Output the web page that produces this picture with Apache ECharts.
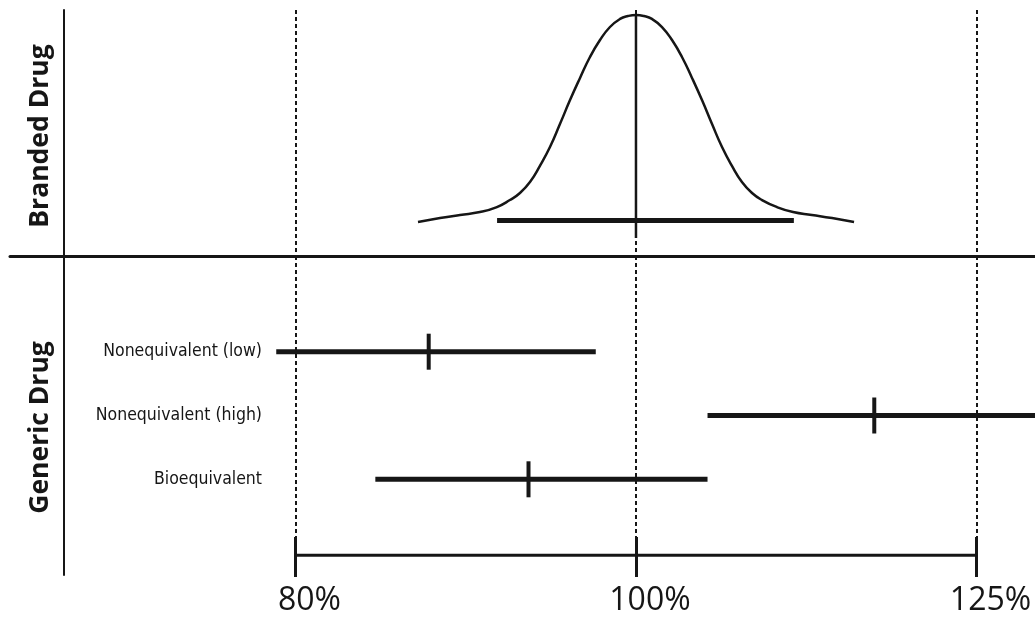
<!DOCTYPE html>
<html><head><meta charset="utf-8">
<script src="https://cdn.jsdelivr.net/npm/echarts@6/dist/echarts.min.js"></script>
<style>html,body{margin:0;padding:0;background:#fff}#c{width:1035px;height:617px}</style>
</head><body><div id="c"></div>
<script>
// ---- data (percent of reference) ----
const tickValues = [80, 100, 125];
const curveX = [86.69, 87.95, 89.11, 90.28, 91.29, 92.07, 92.68, 93.29, 93.90, 94.52, 95.14, 95.77, 96.40, 97.03, 97.67, 98.31, 98.96, 99.48, 100,
                100.53, 101.05, 101.72, 102.39, 103.06, 103.74, 104.42, 105.11, 105.80, 106.49, 107.19, 107.90, 108.61, 109.68, 110.84, 112.22, 113.71, 115.36];
const curveY = [0, 0.019, 0.034, 0.048, 0.072, 0.106, 0.140, 0.193, 0.271, 0.362, 0.473, 0.589, 0.696, 0.797, 0.879, 0.942, 0.981, 0.995, 1.0,
                0.995, 0.981, 0.942, 0.879, 0.797, 0.696, 0.589, 0.473, 0.362, 0.271, 0.193, 0.140, 0.106, 0.072, 0.048, 0.034, 0.019, 0];
const brandedInterval = [91.3, 100, 110.9];           // low, point, high
const genericCategories = ['Nonequivalent (low)', 'Nonequivalent (high)', 'Bioequivalent'];
const genericLow  = [79.0, 104.8, 84.3];
const genericMid  = [87.3, 116.9, 93.2];
const genericHigh = [97.4, 130.0, 104.8];
const axisMinPct = 66.353, axisMaxPct = 129.883;

const INK = '#161616';
const toF = v => v / 100;

const logX = (grid, extra) => Object.assign({
  type: 'log', logBase: 1.25, gridIndex: grid,
  min: toF(axisMinPct), max: toF(axisMaxPct),
  axisLine: { show: false, onZero: false },
  axisTick: { show: false, customValues: tickValues.map(toF) },
  axisLabel: { show: false, customValues: tickValues.map(toF) },
  splitLine: { show: true, lineStyle: { color: INK, width: 2, type: [4, 3] } }
}, extra || {});

const chart = echarts.init(document.getElementById('c'), null, { renderer: 'canvas' });
chart.setOption({
  animation: false,
  backgroundColor: '#fff',
  grid: [
    { left: 10, right: 0, top: 10, height: 246 },
    { left: 10, right: 0, top: 256, height: 319 },
    { left: 10, right: 0, top: 537.5, height: 40 }
  ],
  xAxis: [
    logX(0, { axisLine: { show: true, onZero: false, lineStyle: { color: INK, width: 3 } } }),
    logX(1),
    logX(2, {
      splitLine: { show: false },
      axisTick: { show: true, inside: true, length: 40, customValues: tickValues.map(toF),
                  lineStyle: { color: INK, width: 3 } },
      axisLabel: { show: true, customValues: tickValues.map(toF), margin: 8,
                   formatter: v => Math.round(v * 100) + '%',
                   fontFamily: '"Open Sans", sans-serif', fontSize: 32, color: INK,
                   padding: [0, 0, 0, 28] }
    })
  ],
  yAxis: [
    { type: 'value', gridIndex: 0, min: -0.1643, max: 1.0242, offset: -54,
      axisLine: { show: true, onZero: false, lineStyle: { color: INK, width: 2 } },
      axisTick: { show: false }, axisLabel: { show: false }, splitLine: { show: false },
      name: 'Branded Drug', nameLocation: 'middle', nameRotate: 90, nameGap: 10,
      nameTextStyle: { fontFamily: '"Open Sans", sans-serif', fontWeight: 'bold', fontSize: 26.5, color: INK,
                       padding: [0, 6, 0, 0] } },
    { type: 'category', gridIndex: 1, inverse: true, offset: -54,
      data: [' ', ...genericCategories, '  '],
      axisLine: { show: true, onZero: false, lineStyle: { color: INK, width: 2 } },
      axisTick: { show: false }, splitLine: { show: false },
      axisLabel: { show: true, inside: true, align: 'right', margin: 198,
                   fontFamily: '"DejaVu Sans Condensed", "Liberation Sans Narrow", sans-serif',
                   fontSize: 17.5, color: INK },
      name: 'Generic Drug', nameLocation: 'middle', nameRotate: 90, nameGap: 10,
      nameTextStyle: { fontFamily: '"Open Sans", sans-serif', fontWeight: 'bold', fontSize: 26.5, color: INK,
                       padding: [0, 24, 0, 0] } },
    { type: 'value', gridIndex: 2, min: 0, max: 1, show: false }
  ],
  series: [
    { type: 'line', xAxisIndex: 0, yAxisIndex: 0, smooth: 0.5, showSymbol: false, symbol: 'none',
      lineStyle: { color: INK, width: 2.5 },
      data: curveX.map((x, i) => [toF(x), curveY[i]]) },
    { type: 'line', xAxisIndex: 0, yAxisIndex: 0, showSymbol: false, symbol: 'none',
      lineStyle: { color: INK, width: 2.5 },
      data: [[toF(brandedInterval[1]), Math.max(...curveY)], [toF(brandedInterval[1]), -0.077]] },
    { type: 'line', xAxisIndex: 0, yAxisIndex: 0, showSymbol: false, symbol: 'none',
      lineStyle: { color: INK, width: 5 },
      data: [[toF(brandedInterval[0]), 0.007], [toF(brandedInterval[2]), 0.007]] },
    { type: 'custom', xAxisIndex: 1, yAxisIndex: 1, clip: true,
      encode: { x: [0, 1, 2], y: 3 },
      data: genericCategories.map((c, i) => [toF(genericLow[i]), toF(genericMid[i]), toF(genericHigh[i]), c]),
      renderItem: (params, api) => {
        const y = api.value(3);
        const a = api.coord([api.value(0), y]);
        const m = api.coord([api.value(1), y]);
        const b = api.coord([api.value(2), y]);
        return { type: 'group', children: [
          { type: 'line', shape: { x1: a[0], y1: a[1], x2: b[0], y2: b[1] }, style: { stroke: INK, lineWidth: 5 } },
          { type: 'line', shape: { x1: m[0], y1: m[1] - 18, x2: m[0], y2: m[1] + 18 }, style: { stroke: INK, lineWidth: 4 } }
        ]};
      } },
    { type: 'line', xAxisIndex: 2, yAxisIndex: 2, showSymbol: false, symbol: 'none',
      lineStyle: { color: INK, width: 3 },
      data: [[toF(tickValues[0]), 0.55], [toF(tickValues[tickValues.length - 1]), 0.55]] }
  ]
});
</script></body></html>
